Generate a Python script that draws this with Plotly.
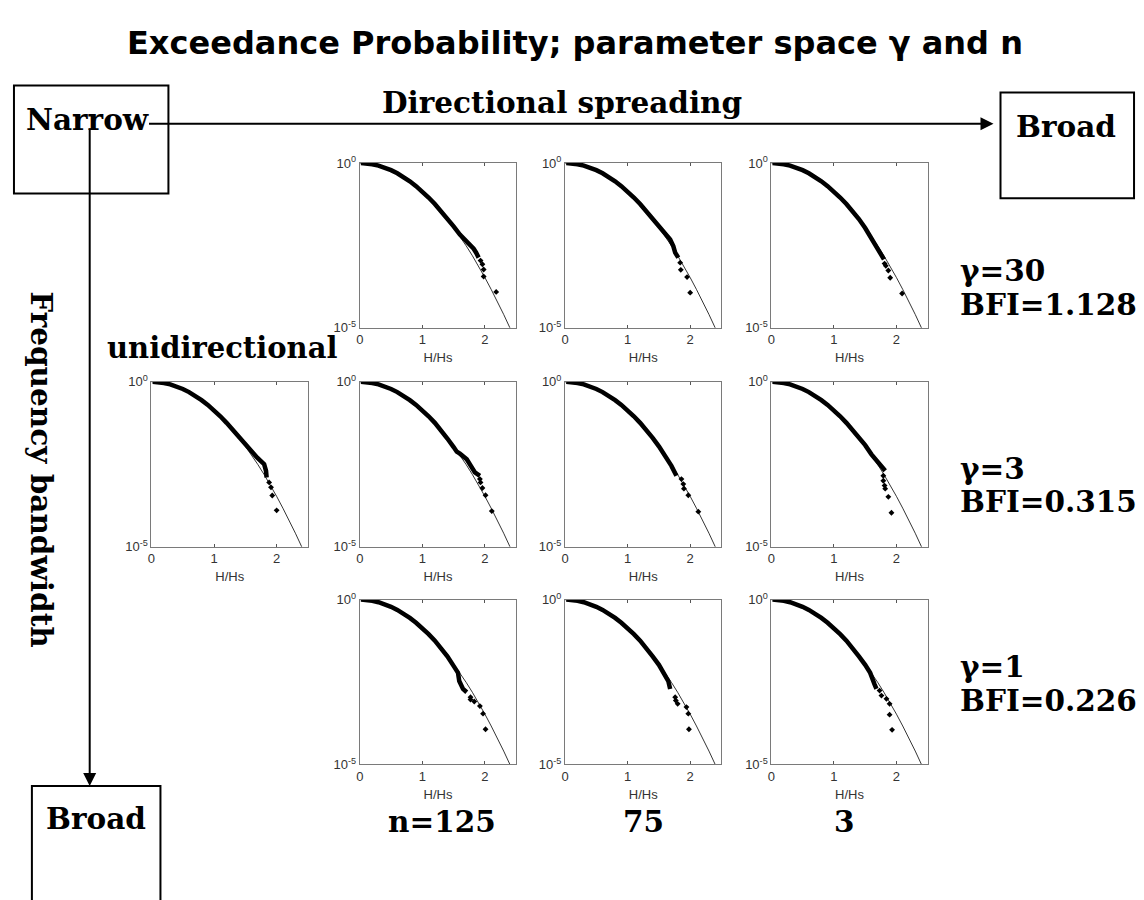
import plotly.graph_objects as go

# ---------------- data ----------------
THEORY_X = [0.0, 0.1, 0.2, 0.3, 0.4, 0.5, 0.6, 0.7, 0.8, 0.9, 1.0, 1.1, 1.2, 1.3,
            1.4, 1.5, 1.6, 1.7, 1.8, 1.9, 2.0, 2.1, 2.2, 2.3, 2.4, 2.5]
THEORY_Y = [1.0, 0.9802, 0.9231, 0.8353, 0.7261, 0.6065, 0.4868, 0.3753, 0.2780,
            0.1979, 0.1353, 0.0889, 0.0561, 0.0340, 0.0198, 0.0111, 0.00598,
            0.00309, 0.00154, 0.000731, 0.000335, 0.000147, 6.26e-5, 2.55e-5,
            9.95e-6, 3.73e-6]

BODY_X = [0.02, 0.06, 0.1, 0.2, 0.3, 0.4, 0.5, 0.6, 0.7, 0.8, 0.9, 1.0, 1.1, 1.2, 1.3]
BODY_Y = [1.0, 0.995, 0.98, 0.923, 0.836, 0.727, 0.607, 0.488, 0.376, 0.279, 0.199,
          0.136, 0.090, 0.057, 0.0345]

# panel keys: gamma / n
PANELS = ["g30_n125", "g30_n75", "g30_n3", "uni", "g3_n125", "g3_n75", "g3_n3",
          "g1_n125", "g1_n75", "g1_n3"]

DENSE_X = {
    "g30_n125": [1.4, 1.5, 1.6, 1.7, 1.78, 1.82, 1.86, 1.9],
    "g30_n75": [1.4, 1.5, 1.6, 1.68, 1.73, 1.76, 1.81],
    "g30_n3": [1.4, 1.5, 1.6, 1.66, 1.72, 1.80],
    "uni": [1.4, 1.46, 1.55, 1.62, 1.69, 1.75, 1.80, 1.83, 1.84],
    "g3_n125": [1.4, 1.5, 1.55, 1.6, 1.71, 1.84, 1.92],
    "g3_n75": [1.4, 1.5, 1.6, 1.7, 1.78],
    "g3_n3": [1.4, 1.5, 1.6, 1.68, 1.79, 1.82],
    "g1_n125": [1.4, 1.52, 1.57, 1.59, 1.65, 1.71],
    "g1_n75": [1.4, 1.5, 1.6, 1.65, 1.68],
    "g1_n3": [1.4, 1.5, 1.58, 1.65, 1.68],
}
DENSE_Y = {
    "g30_n125": [0.0219, 0.0120, 0.00676, 0.00417, 0.00316, 0.00251, 0.00191, 0.00135],
    "g30_n75": [0.0209, 0.0117, 0.00708, 0.00479, 0.00302, 0.00191, 0.00135],
    "g30_n3": [0.0200, 0.0107, 0.0050, 0.00302, 0.00204, 0.00120],
    "uni": [0.0200, 0.0141, 0.0100, 0.00708, 0.00501, 0.00398, 0.00316, 0.0020, 0.00126],
    "g3_n125": [0.0191, 0.0105, 0.00759, 0.00661, 0.00447, 0.00178, 0.00141],
    "g3_n75": [0.0200, 0.0110, 0.00575, 0.00282, 0.00141],
    "g3_n3": [0.0209, 0.0120, 0.0063, 0.00398, 0.00224, 0.0020],
    "g1_n125": [0.0190, 0.0085, 0.0060, 0.00339, 0.00195, 0.00155],
    "g1_n75": [0.0190, 0.0105, 0.0050, 0.00339, 0.00195],
    "g1_n3": [0.0190, 0.0105, 0.0060, 0.00269, 0.00195],
}
TAIL_X = {
    "g30_n125": [1.93, 1.96, 1.98, 1.98, 2.18],
    "g30_n75": [1.84, 1.85, 1.95, 2.0],
    "g30_n3": [1.81, 1.83, 1.87, 1.90, 2.09],
    "uni": [1.88, 1.91, 1.93, 2.0],
    "g3_n125": [1.92, 1.93, 1.96, 2.01, 2.11],
    "g3_n75": [1.86, 1.89, 1.90, 1.97, 2.13],
    "g3_n3": [1.79, 1.79, 1.81, 1.82, 1.87, 1.92],
    "g1_n125": [1.77, 1.77, 1.83, 1.92, 1.97, 2.01],
    "g1_n75": [1.76, 1.77, 1.80, 1.94, 1.97, 1.98],
    "g1_n3": [1.73, 1.76, 1.84, 1.89, 1.89, 1.93],
}
TAIL_Y = {
    "g30_n125": [0.00110, 0.00085, 0.00059, 0.00036, 0.000123],
    "g30_n75": [0.00095, 0.000575, 0.000347, 0.000117],
    "g30_n3": [0.00089, 0.00076, 0.00055, 0.00033, 0.00011],
    "uni": [0.00089, 0.00063, 0.000355, 0.000126],
    "g3_n125": [0.00112, 0.00089, 0.00060, 0.000363, 0.00012],
    "g3_n75": [0.00112, 0.00079, 0.000575, 0.000363, 0.000115],
    "g3_n3": [0.00141, 0.0010, 0.00071, 0.000575, 0.000324, 0.000107],
    "g1_n125": [0.0011, 0.00093, 0.00081, 0.00059, 0.000347, 0.000117],
    "g1_n75": [0.0011, 0.00087, 0.00069, 0.00055, 0.000347, 0.000117],
    "g1_n3": [0.00174, 0.00123, 0.00098, 0.00069, 0.000324, 0.000112],
}

X_TICKS = [0, 1, 2]
Y_TICKVALS = [1e-5, 1]
Y_TICKTEXT = ["10<sup>-5</sup>", "10<sup>0</sup>"]
X_TITLE = "H/Hs"

ROW_LABELS = [("γ=30", "BFI=1.128"), ("γ=3", "BFI=0.315"), ("γ=1", "BFI=0.226")]
COL_LABELS = ["n=125", "75", "3"]

# ---------------- layout geometry (pixels) ----------------
W, H = 1144, 900
COL_LEFT = {0: 148, 1: 357, 2: 563, 3: 770}
ROW_TOP = {0: 157, 1: 380, 2: 602}
PW, PH = 157, 168
PANEL_POS = {
    "g30_n125": (0, 1), "g30_n75": (0, 2), "g30_n3": (0, 3),
    "uni": (1, 0), "g3_n125": (1, 1), "g3_n75": (1, 2), "g3_n3": (1, 3),
    "g1_n125": (2, 1), "g1_n75": (2, 2), "g1_n3": (2, 3),
}


def px(x):
    return x / W


def py(y):
    return 1 - y / H


fig = go.Figure()
layout = dict(
    width=W, height=H, margin=dict(l=0, r=0, t=0, b=0),
    paper_bgcolor="white", plot_bgcolor="white", showlegend=False,
)

axis_font = dict(family="Liberation Sans, Arial", size=13, color="#333")
for i, key in enumerate(PANELS):
    r, c = PANEL_POS[key]
    n = i + 1
    xa = "x" if n == 1 else f"x{n}"
    ya = "y" if n == 1 else f"y{n}"
    l, t = COL_LEFT[c], ROW_TOP[r]
    layout["xaxis" if n == 1 else f"xaxis{n}"] = dict(
        domain=[px(l), px(l + PW)], anchor=ya, range=[0, 2.5],
        tickvals=X_TICKS, ticks="inside", ticklen=3, tickcolor="#555",
        showline=True, linecolor="#7a7a7a", linewidth=1, mirror="ticks",
        showgrid=False, zeroline=False, tickfont=axis_font,
        title=dict(text=X_TITLE, font=axis_font, standoff=6),
    )
    layout["yaxis" if n == 1 else f"yaxis{n}"] = dict(
        domain=[py(t + PH), py(t)], anchor=xa, type="log", range=[-5, 0],
        tickvals=Y_TICKVALS, ticktext=Y_TICKTEXT, ticks="inside", ticklen=3,
        tickcolor="#555", showline=True, linecolor="#7a7a7a", linewidth=1,
        mirror="ticks", showgrid=False, zeroline=False, tickfont=axis_font,
    )
    fig.add_trace(go.Scatter(x=THEORY_X, y=THEORY_Y, mode="lines",
                             line=dict(color="black", width=0.8),
                             xaxis=xa, yaxis=ya, hoverinfo="skip"))
    fig.add_trace(go.Scatter(x=BODY_X + DENSE_X[key], y=BODY_Y + DENSE_Y[key],
                             mode="lines", line=dict(color="black", width=4.5),
                             xaxis=xa, yaxis=ya))
    fig.add_trace(go.Scatter(x=TAIL_X[key], y=TAIL_Y[key], mode="markers",
                             marker=dict(color="black", size=4.5, symbol="diamond"),
                             xaxis=xa, yaxis=ya))

serif = "DejaVu Serif, serif"
sans = "DejaVu Sans, sans-serif"
ann = []


def text(x, y, s, size=29.5, family=serif, xanchor="center", angle=0):
    ann.append(dict(x=px(x), y=py(y), xref="paper", yref="paper", text=f"<b>{s}</b>",
                    showarrow=False, xanchor=xanchor, yanchor="middle",
                    textangle=angle, font=dict(family=family, size=size, color="black")))


text(573, 35, "Exceedance Probability; parameter space γ and n", size=32, family=sans)
text(84, 113, "Narrow")
text(1066, 120, "Broad")
text(560, 95, "Directional spreading")
text(92, 825, "Broad")
text(337, 346, "unidirectional", size=29, xanchor="right")
text(38, 470, "Frequency bandwidth", angle=90)
row_y = [(267, 301), (468, 502), (670, 705)]
for (g, b), (y1, y2) in zip(ROW_LABELS, row_y):
    text(957, y1, g, xanchor="left")
    text(957, y2, b, xanchor="left")
for lab, xc in zip(COL_LABELS, [440, 642, 843]):
    text(xc, 828, lab)

# arrows
ann.append(dict(x=px(993), y=py(117), xref="paper", yref="paper", ax=147 - 993, ay=0,
                axref="pixel", ayref="pixel", text="", showarrow=True, arrowhead=2,
                arrowsize=1.3, arrowwidth=2, arrowcolor="black"))
ann.append(dict(x=px(86), y=py(792), xref="paper", yref="paper", ax=0, ay=133 - 792,
                axref="pixel", ayref="pixel", text="", showarrow=True, arrowhead=2,
                arrowsize=1.3, arrowwidth=2, arrowcolor="black"))
layout["annotations"] = ann

box = dict(type="rect", xref="paper", yref="paper", line=dict(color="black", width=2),
           fillcolor="rgba(0,0,0,0)")
layout["shapes"] = [
    dict(box, x0=px(10), x1=px(165), y0=py(188), y1=py(78)),
    dict(box, x0=px(1000), x1=px(1134), y0=py(193), y1=py(85)),
    dict(box, x0=px(28), x1=px(157), y0=py(910), y1=py(792)),
]

fig.update_layout(**layout)
fig.write_html("out.html")
